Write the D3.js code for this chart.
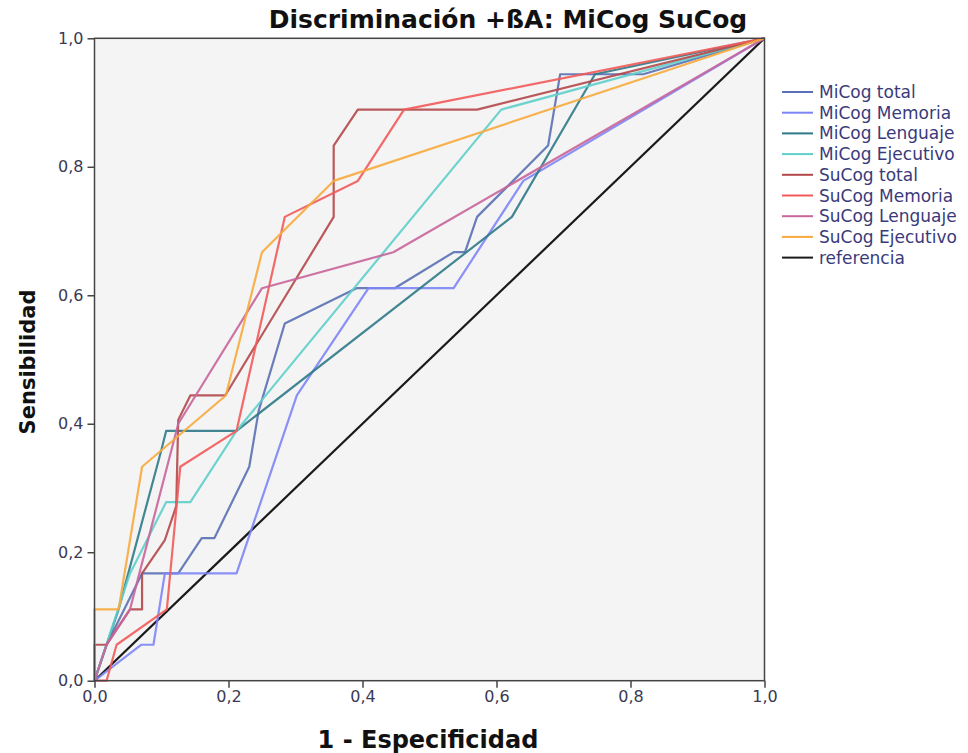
<!DOCTYPE html>
<html>
<head>
<meta charset="utf-8">
<script src="https://cdn.jsdelivr.net/npm/d3@7"></script>
<style>
  body { margin: 0; background: #fff; }
  svg text { font-family: "DejaVu Sans", sans-serif; }
</style>
</head>
<body>
<div id="chart"></div>
<script>
// series names + colours
var seriesNames = ["MiCog total", "MiCog Memoria", "MiCog Lenguaje", "MiCog Ejecutivo",
  "SuCog total", "SuCog Memoria", "SuCog Lenguaje", "SuCog Ejecutivo", "referencia"];
var seriesColors = ["#5a70b4", "#7d85f6", "#2f7a88", "#5fcfcb",
  "#b3484b", "#f25a5a", "#c8659b", "#f7aa3c", "#1a1a1a"];

// ROC points [1 - especificidad, sensibilidad]
var micogTotal = [[0,0],[0.018,0.056],[0.071,0.167],[0.125,0.167],[0.16,0.222],[0.179,0.222],
  [0.231,0.333],[0.245,0.42],[0.284,0.556],[0.391,0.611],[0.448,0.611],[0.536,0.667],[0.553,0.667],
  [0.571,0.722],[0.677,0.833],[0.695,0.944],[0.819,0.944],[1,1]];
var micogMemoria = [[0,0],[0.070,0.056],[0.088,0.056],[0.105,0.167],[0.212,0.167],[0.302,0.444],
  [0.409,0.611],[0.536,0.611],[0.640,0.778],[1,1]];
var micogLenguaje = [[0,0],[0.036,0.111],[0.1,0.36],[0.107,0.389],[0.212,0.389],[0.623,0.722],
  [0.747,0.944],[1,1]];
var micogEjecutivo = [[0,0],[0.053,0.167],[0.107,0.278],[0.143,0.278],[0.212,0.389],[0.607,0.889],[1,1]];
var sucogTotal = [[0,0],[0,0.056],[0.018,0.056],[0.053,0.111],[0.071,0.111],[0.071,0.167],
  [0.105,0.219],[0.122,0.272],[0.125,0.406],[0.143,0.444],[0.195,0.444],[0.357,0.722],[0.357,0.833],
  [0.393,0.889],[0.571,0.889],[1,1]];
var sucogMemoria = [[0,0],[0.018,0],[0.033,0.056],[0.108,0.111],[0.128,0.333],[0.212,0.389],
  [0.284,0.722],[0.393,0.778],[0.462,0.889],[1,1]];
var sucogLenguaje = [[0,0],[0.018,0.056],[0.053,0.111],[0.125,0.4],[0.25,0.611],[0.446,0.667],[1,1]];
var sucogEjecutivo = [[0,0],[0,0.111],[0.036,0.111],[0.071,0.333],[0.196,0.444],[0.25,0.667],
  [0.357,0.778],[1,1]];
var referencia = [[0,0],[1,1]];

var tickValues = [0, 0.2, 0.4, 0.6, 0.8, 1.0];

var allSeries = [micogTotal, micogMemoria, micogLenguaje, micogEjecutivo,
  sucogTotal, sucogMemoria, sucogLenguaje, sucogEjecutivo, referencia];

var w = 968, h = 753;
var svg = d3.select("#chart").append("svg")
  .attr("width", w)
  .attr("height", h);

var x = d3.scaleLinear().domain([0, 1]).range([94.5, 764.5]);
var y = d3.scaleLinear().domain([0, 1]).range([680.7, 38.3]);

var fmt = function(d){ return d.toFixed(1).replace(".", ","); };

// plot background
svg.append("rect")
  .attr("x", x(0)).attr("y", y(1))
  .attr("width", x(1) - x(0)).attr("height", y(0) - y(1))
  .style("fill", "#f4f4f4");

// series lines
var line = d3.line()
  .x(function(d){ return x(d[0]); })
  .y(function(d){ return y(d[1]); });

var plot = svg.append("g");
// reference first, then the curves
plot.append("path")
  .attr("d", line(referencia))
  .style("fill", "none")
  .style("stroke", seriesColors[8])
  .style("stroke-width", 2.2);

allSeries.slice(0, 8).forEach(function(s, i){
  plot.append("path")
    .attr("d", line(s))
    .style("fill", "none")
    .style("stroke", seriesColors[i])
    .style("stroke-width", 2.2)
    .style("stroke-opacity", 0.9)
    .style("stroke-linejoin", "round");
});

// frame
svg.append("rect")
  .attr("x", x(0)).attr("y", y(1))
  .attr("width", x(1) - x(0)).attr("height", y(0) - y(1))
  .style("fill", "none")
  .style("stroke", "#444")
  .style("stroke-width", 1.5);

// axes
var yAxis = svg.append("g")
  .attr("transform", "translate(" + x(0) + ",0)")
  .call(d3.axisLeft(y).tickValues(tickValues).tickFormat(fmt).tickSize(7).tickPadding(4));
var xAxis = svg.append("g")
  .attr("transform", "translate(0," + y(0) + ")")
  .call(d3.axisBottom(x).tickValues(tickValues).tickFormat(fmt).tickSize(7).tickPadding(3));

[xAxis, yAxis].forEach(function(a){
  a.select(".domain").remove();
  a.selectAll(".tick line").style("stroke", "#444").style("stroke-width", 1.5);
  a.selectAll(".tick text")
    .style("font-size", "16px")
    .style("font-family", "'DejaVu Sans', sans-serif")
    .style("fill", "#3a3a55");
});

// title + axis labels
svg.append("text")
  .attr("x", 508).attr("y", 28)
  .attr("text-anchor", "middle")
  .style("font-size", "25px").style("font-weight", "bold").style("fill", "#111")
  .text("Discriminación +ßA: MiCog SuCog");

svg.append("text")
  .attr("x", 428).attr("y", 748)
  .attr("text-anchor", "middle")
  .style("font-size", "24px").style("font-weight", "bold").style("fill", "#111")
  .text("1 - Especificidad");

svg.append("text")
  .attr("transform", "translate(35,362) rotate(-90)")
  .attr("text-anchor", "middle")
  .style("font-size", "21px").style("font-weight", "bold").style("fill", "#111")
  .text("Sensibilidad");

// legend
var legend = svg.append("g").attr("transform", "translate(782,92)");
seriesNames.forEach(function(name, i){
  var row = legend.append("g").attr("transform", "translate(0," + (i * 20.7) + ")");
  row.append("line")
    .attr("x1", 0).attr("x2", 31)
    .style("stroke", seriesColors[i])
    .style("stroke-width", 2);
  row.append("text")
    .attr("x", 37).attr("y", 6)
    .style("font-size", "17px")
    .style("fill", "#3a3a7a")
    .text(name);
});
</script>
</body>
</html>
